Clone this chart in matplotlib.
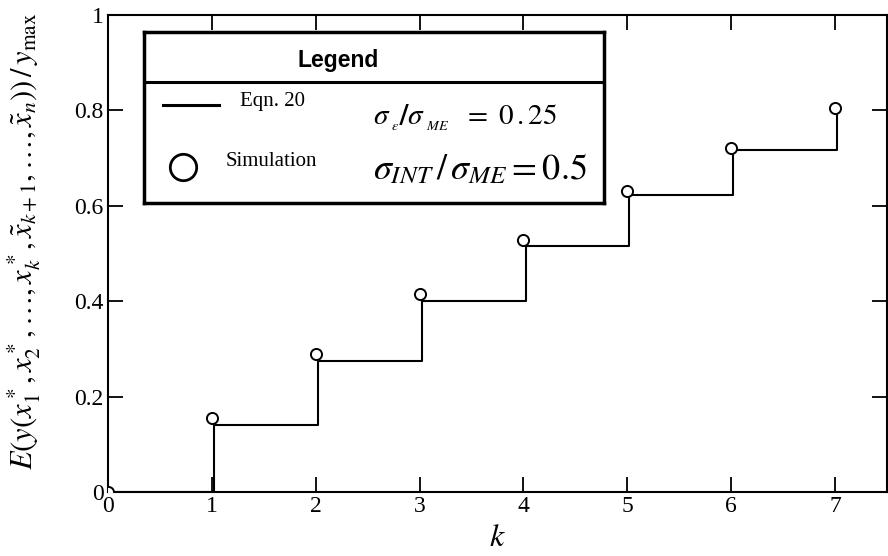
import matplotlib
matplotlib.use("Agg")
import matplotlib.pyplot as plt

plt.rcParams['font.family'] = 'Liberation Serif'
plt.rcParams['mathtext.fontset'] = 'stix'

# values
k_values = [0, 1, 2, 3, 4, 5, 6, 7]
eqn20 = [0.0, 0.1405, 0.275, 0.400, 0.516, 0.623, 0.717, 0.797]
simulation = [0.0, 0.1545, 0.289, 0.4145, 0.528, 0.631, 0.7205, 0.804]
x_ticks = [0, 1, 2, 3, 4, 5, 6, 7]
y_ticks = [0, 0.2, 0.4, 0.6, 0.8, 1]
y_tick_labels = ['0', '0.2', '0.4', '0.6', '0.8', '1']

W, H = 888, 556
fig = plt.figure(figsize=(W / 100, H / 100), dpi=100)
ax = fig.add_axes([108 / W, 1 - 492 / H, (887 - 108) / W, (492 - 15) / H])

# the step line sits a hair right of the integer k
ax.step([k + 0.02 for k in k_values], eqn20, where='post', color='black', lw=1.5)
ax.plot(k_values, simulation, 'o', mfc='white', mec='black', ms=8, mew=1.4,
        clip_on=True, zorder=3)

ax.set_xlim(0, 7.5)
ax.set_ylim(0, 1)
ax.set_xticks(x_ticks)
ax.set_yticks(y_ticks)
ax.set_yticklabels(y_tick_labels)
ax.tick_params(direction='in', length=11, width=1.3, top=True, right=True,
               labelsize=17, pad=3)
for s in ax.spines.values():
    s.set_linewidth(1.5)

ax.set_xlabel(r'$k$', fontsize=23)
ax.xaxis.set_label_coords(0.5, -0.068)
ax.set_ylabel(r'$E(y(x_1^*, x_2^*, \ldots, x_k^*, \tilde{x}_{k+1}, \ldots, \tilde{x}_n))\,/\,y_{\max}$',
              fontsize=22)
ax.yaxis.set_label_coords(-0.083, 0.526)

# legend box drawn as a small axes
lg = fig.add_axes([144 / W, 1 - 203 / H, 460 / W, 171 / H])
lg.set_xlim(0, 1)
lg.set_ylim(0, 1)
lg.set_xticks([])
lg.set_yticks([])
for s in lg.spines.values():
    s.set_linewidth(2.5)
lg.axhline(0.708, color='black', lw=2.2)
lg.text(0.4217, 0.836, 'Legend', fontsize=16.5, fontweight='bold',
        family='Liberation Sans', ha='center', va='center')
lg.plot([0.0413, 0.163], [0.573, 0.573], color='black', lw=2.2)
lg.text(0.209, 0.595, 'Eqn. 20', fontsize=15, ha='left', va='center')
lg.plot([0.0848], [0.2105], 'o', mfc='white', mec='black', ms=19, mew=2)
lg.text(0.178, 0.24, 'Simulation', fontsize=15, ha='left', va='center')
lg.text(0.498, 0.50, r'$\sigma_{_{\ \varepsilon}}\mathbf{/}\sigma_{_{\ ME}}\ \ =\ 0\,.25$',
        fontsize=21, ha='left', va='center')
lg.text(0.498, 0.19, r'$\sigma_{INT}\,/\,\sigma_{ME} = 0.5$',
        fontsize=26, ha='left', va='center')

fig.savefig('out.png', dpi=100)
